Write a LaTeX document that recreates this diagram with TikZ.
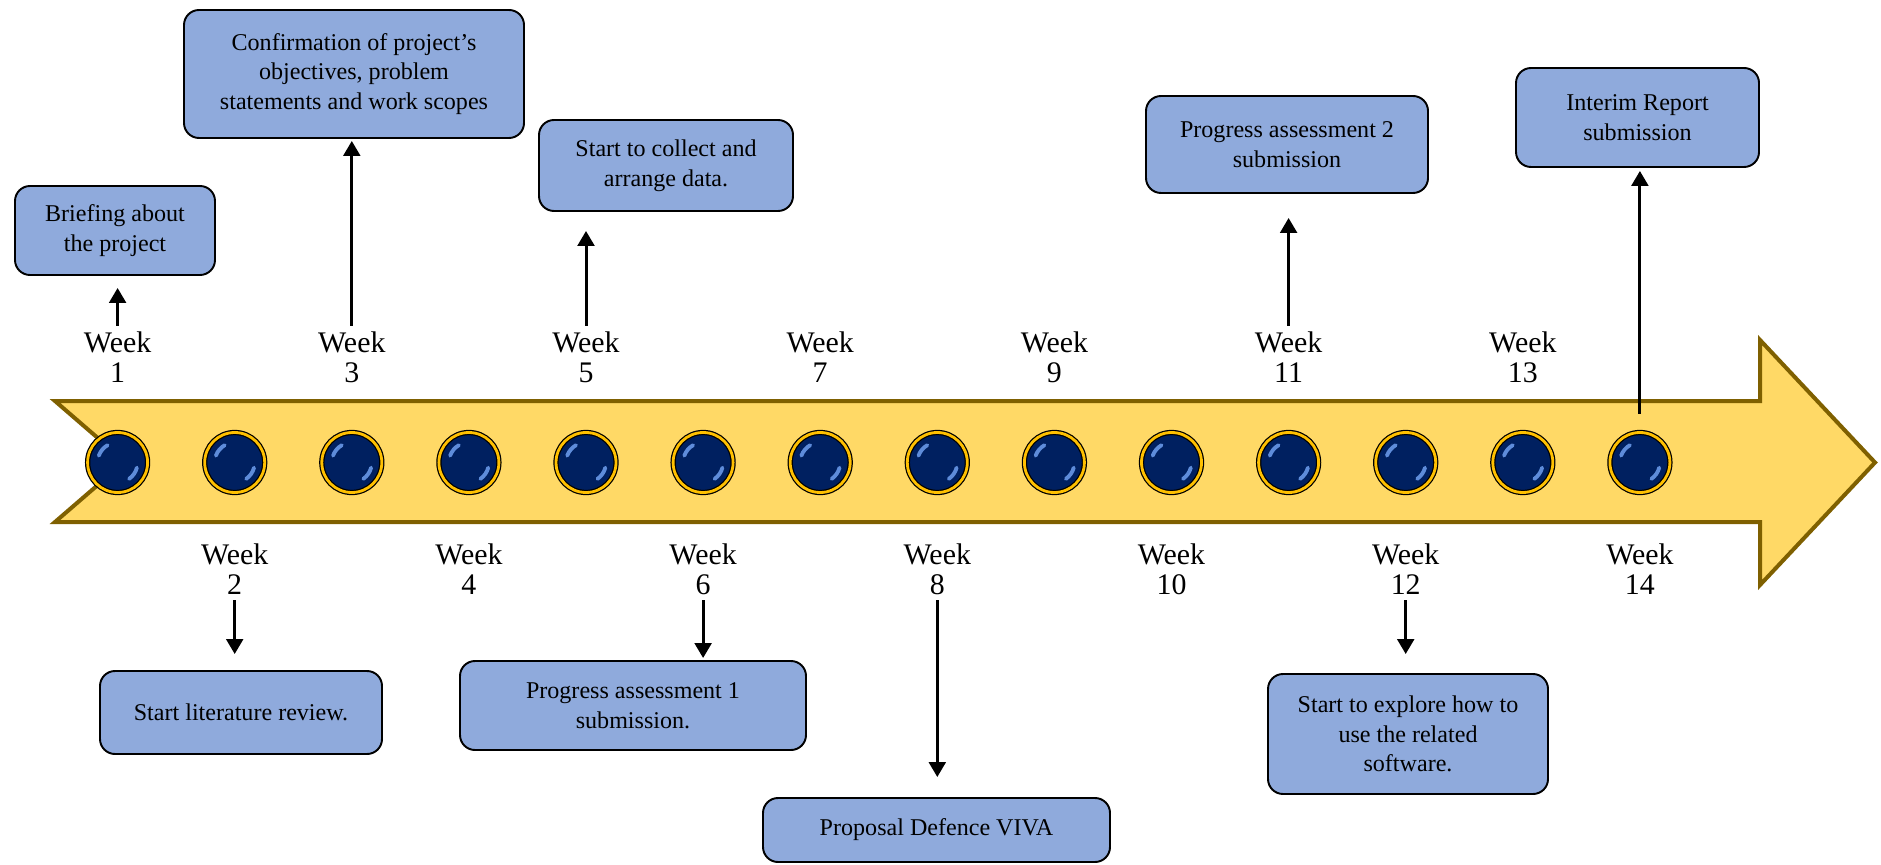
\documentclass[tikz,border=0pt]{standalone}
\usepackage{fontspec}
\setmainfont{Liberation Serif}
\usepackage{xcolor}
\usetikzlibrary{arrows.meta}

\definecolor{boxblue}{HTML}{8FAADC}
\definecolor{bandgold}{HTML}{FFD966}
\definecolor{bandedge}{HTML}{7F6000}
\definecolor{dotnavy}{HTML}{002060}
\definecolor{dotring}{HTML}{FFC000}
\definecolor{dotshine}{HTML}{6FA0F0}

\begin{document}
\begin{tikzpicture}[
  >={Triangle[length=8.5pt, width=9.5pt]},
  box/.style={draw=black, line width=1.1pt, rounded corners=0.3cm, fill=boxblue, align=center, inner sep=2pt, font=\fontsize{13.7pt}{16.8pt}\selectfont},
  wk/.style={align=center, inner sep=3pt, font=\fontsize{17pt}{17.2pt}\selectfont},
  dot/.style={circle, minimum size=1.2cm, inner sep=0pt, fill=dotnavy, draw=black, line width=0.7pt, double=dotring, double distance=1.6pt},
  shine/.style={dotshine, line width=2.2pt, line cap=round, opacity=0.85},
  link/.style={->, line width=1.7pt}
]
\useasboundingbox (0,0) rectangle (37.62,17.28);

% Timeline band
\draw[fill=bandgold, draw=bandedge, line width=0.08cm]
  (1.1,9.26) -- (35.2,9.26) -- (35.2,10.48) -- (37.5,8.03) -- (35.2,5.58)
  -- (35.2,6.84) -- (1.1,6.84) -- (2.5,8.05) -- cycle;

% Week dots
\foreach \i in {1,...,14} {
  \node[dot] (c\i) at ({2.352+(\i-1)*2.342}, 8.03) {};
  \draw[shine] (c\i.center) ++(160:0.4) arc[start angle=160, end angle=120, radius=0.4];
  \draw[shine] (c\i.center) ++(-15:0.4) arc[start angle=-15, end angle=-55, radius=0.4];
}

% Week labels
\foreach \i in {1,3,...,13}
  \node[wk] (w\i) at ({2.352+(\i-1)*2.342}, 10.14) {Week\\\i};
\foreach \i in {2,4,...,14}
  \node[wk] (w\i) at ({2.352+(\i-1)*2.342}, 5.9) {Week\\\i};

% Tasks above the band
\node[box, minimum width=4.0cm, minimum height=1.78cm] (brief) at (2.3, 12.67) {Briefing about\\the project};
\node[box, minimum width=6.8cm, minimum height=2.56cm] (confirm) at (7.08, 15.8) {Confirmation of project’s\\objectives, problem\\statements and work scopes};
\node[box, minimum width=5.08cm, minimum height=1.82cm] (collect) at (13.32, 13.97) {Start to collect and\\arrange data.};
\node[box, minimum width=5.64cm, minimum height=1.94cm] (prog2) at (25.74, 14.39) {Progress assessment 2\\submission};
\node[box, minimum width=4.86cm, minimum height=1.98cm] (interim) at (32.75, 14.93) {Interim Report\\submission};

% Tasks below the band
\node[box, minimum width=5.64cm, minimum height=1.66cm] (litrev) at (4.82, 3.03) {Start literature review.};
\node[box, minimum width=6.92cm, minimum height=1.78cm] (prog1) at (12.66, 3.17) {Progress assessment 1\\submission.};
\node[box, minimum width=6.94cm, minimum height=1.28cm] (viva) at (18.73, 0.68) {Proposal Defence VIVA};
\node[box, minimum width=5.6cm, minimum height=2.4cm] (explore) at (28.16, 2.6) {Start to explore how to\\use the related\\software.};

% Arrows up
\draw[link, shorten >=0.24cm] (w1.north) -- (w1.north |- brief.south);
\draw[link, shorten >=0.04cm] (w3.north) -- (w3.north |- confirm.south);
\draw[link, shorten >=0.38cm] (w5.north) -- (w5.north |- collect.south);
\draw[link, shorten >=0.48cm] (w11.north) -- (w11.north |- prog2.south);
\draw[link, shorten <=0.36cm, shorten >=0.06cm] (c14.north) -- (c14.north |- interim.south);

% Arrows down
\draw[link, shorten >=0.32cm] (w2.south) -- (w2.south |- litrev.north);
\draw[link, shorten >=0.04cm] (w6.south) -- (w6.south |- prog1.north);
\draw[link, shorten >=0.4cm] (w8.south) -- (w8.south |- viva.north);
\draw[link, shorten >=0.38cm] (w12.south) -- (w12.south |- explore.north);

\end{tikzpicture}
\end{document}
